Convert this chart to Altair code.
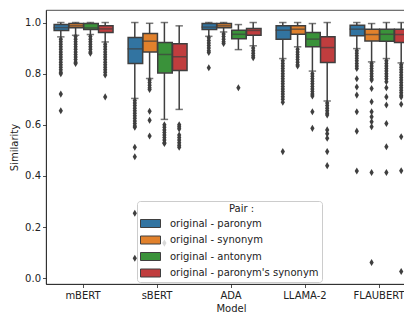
import altair as alt
import pandas as pd

models = ["mBERT", "sBERT", "ADA", "LLAMA-2", "FLAUBERT"]
pairs = ["original - paronym", "original - synonym", "original - antonym", "original - paronym's synonym"]
colors = ["#3274a1", "#e1812c", "#3a923a", "#c03d3e"]
gray = "#3f3f3f"

# per model, per pair (order of pairs)
q1 = [
    [0.969, 0.980, 0.973, 0.961],
    [0.840, 0.885, 0.803, 0.812],
    [0.973, 0.980, 0.937, 0.950],
    [0.935, 0.954, 0.905, 0.844],
    [0.948, 0.928, 0.927, 0.922],
]
median = [
    [0.980, 0.987, 0.979, 0.975],
    [0.897, 0.927, 0.875, 0.866],
    [0.982, 0.987, 0.954, 0.969],
    [0.970, 0.974, 0.935, 0.902],
    [0.974, 0.953, 0.954, 0.953],
]
q3 = [
    [0.992, 0.996, 0.996, 0.987],
    [0.941, 0.957, 0.922, 0.917],
    [0.996, 0.996, 0.970, 0.977],
    [0.987, 0.987, 0.961, 0.944],
    [0.989, 0.974, 0.974, 0.974],
]
whisker_low = [
    [0.944, 0.950, 0.953, 0.924],
    [0.703, 0.781, 0.621, 0.660],
    [0.946, 0.963, 0.894, 0.909],
    [0.859, 0.905, 0.810, 0.693],
    [0.898, 0.846, 0.859, 0.842],
]
whisker_high = [
    [1.000, 1.000, 1.000, 1.000],
    [1.000, 0.997, 1.000, 0.987],
    [1.000, 1.000, 0.992, 1.000],
    [1.000, 1.000, 0.996, 1.000],
    [1.000, 0.996, 1.000, 1.000],
]

outliers = {
    ("mBERT", 0): [0.935, 0.925, 0.915, 0.905, 0.895, 0.885, 0.875, 0.865, 0.855, 0.845, 0.835, 0.825, 0.815, 0.805, 0.800, 0.720, 0.655],
    ("mBERT", 1): [0.945, 0.935, 0.925, 0.915, 0.905, 0.895, 0.885, 0.875, 0.865, 0.855, 0.845, 0.840],
    ("mBERT", 2): [0.945, 0.935, 0.925, 0.915, 0.905, 0.895, 0.885, 0.880],
    ("mBERT", 3): [0.915, 0.905, 0.895, 0.885, 0.875, 0.865, 0.855, 0.845, 0.835, 0.825, 0.815, 0.805, 0.795, 0.709],
    ("sBERT", 0): [0.695, 0.685, 0.675, 0.665, 0.655, 0.645, 0.635, 0.625, 0.615, 0.605, 0.595, 0.590, 0.512, 0.475, 0.254, 0.078],
    ("sBERT", 1): [0.775, 0.765, 0.755, 0.745, 0.738, 0.653, 0.618, 0.556],
    ("sBERT", 2): [0.600, 0.590, 0.580, 0.570, 0.560, 0.550, 0.540, 0.530, 0.527, 0.137],
    ("sBERT", 3): [0.600, 0.592, 0.584, 0.560, 0.550, 0.540, 0.530, 0.520, 0.512],
    ("ADA", 0): [0.940, 0.930, 0.920, 0.910, 0.900, 0.890, 0.883, 0.823],
    ("ADA", 1): [0.955, 0.945, 0.935, 0.925, 0.918],
    ("ADA", 2): [0.745],
    ("ADA", 3): [0.900, 0.890, 0.880, 0.870, 0.862],
    ("LLAMA-2", 0): [0.850, 0.840, 0.830, 0.820, 0.810, 0.800, 0.790, 0.780, 0.770, 0.760, 0.750, 0.740, 0.730, 0.720, 0.710, 0.700, 0.688, 0.495],
    ("LLAMA-2", 1): [0.895, 0.885, 0.875, 0.865, 0.855, 0.845, 0.835, 0.830],
    ("LLAMA-2", 2): [0.800, 0.790, 0.780, 0.770, 0.760, 0.750, 0.740, 0.730, 0.720, 0.713, 0.651, 0.586],
    ("LLAMA-2", 3): [0.685, 0.675, 0.665, 0.655, 0.645, 0.638, 0.580, 0.565, 0.547, 0.495, 0.440],
    ("FLAUBERT", 0): [0.890, 0.880, 0.870, 0.860, 0.850, 0.840, 0.830, 0.820, 0.780, 0.748, 0.716, 0.651, 0.575, 0.419],
    ("FLAUBERT", 1): [0.840, 0.830, 0.820, 0.810, 0.800, 0.790, 0.780, 0.775, 0.742, 0.690, 0.651, 0.631, 0.612, 0.592, 0.413, 0.061],
    ("FLAUBERT", 2): [0.850, 0.840, 0.830, 0.820, 0.810, 0.800, 0.790, 0.780, 0.768, 0.745, 0.709, 0.677, 0.605, 0.514, 0.413],
    ("FLAUBERT", 3): [0.835, 0.825, 0.815, 0.805, 0.795, 0.785, 0.775, 0.765, 0.755, 0.745, 0.735, 0.725, 0.715, 0.709, 0.680, 0.553, 0.420, 0.026],
}

rows = []
for i, m in enumerate(models):
    for j, p in enumerate(pairs):
        rows.append({"Model": m, "Pair": p, "q1": q1[i][j], "median": median[i][j], "q3": q3[i][j],
                     "lo": whisker_low[i][j], "hi": whisker_high[i][j]})
stats = pd.DataFrame(rows)

orows = []
for (m, j), vals in outliers.items():
    for v in vals:
        orows.append({"Model": m, "Pair": pairs[j], "value": v})
outl = pd.DataFrame(orows)

x = alt.X("Model:N", sort=models, scale=alt.Scale(domain=models, paddingInner=0, paddingOuter=0),
          axis=alt.Axis(title="Model", labelAngle=0))
xo = alt.XOffset("Pair:N", sort=pairs, scale=alt.Scale(domain=pairs, paddingInner=0, paddingOuter=0.5))
yscale = alt.Scale(domain=[-0.023, 1.049], nice=False, zero=False)

base = alt.Chart(stats)

whisk_lo = base.mark_rule(color=gray, strokeWidth=1.5).encode(
    x=x, xOffset=xo, y=alt.Y("lo:Q", scale=yscale), y2="q1:Q")
whisk_hi = base.mark_rule(color=gray, strokeWidth=1.5).encode(
    x=x, xOffset=xo, y=alt.Y("q3:Q", scale=yscale), y2="hi:Q")
cap_lo = base.mark_tick(color=gray, size=7.4, thickness=1.5, orient="horizontal").encode(
    x=x, xOffset=xo, y=alt.Y("lo:Q", scale=yscale))
cap_hi = base.mark_tick(color=gray, size=7.4, thickness=1.5, orient="horizontal").encode(
    x=x, xOffset=xo, y=alt.Y("hi:Q", scale=yscale))

boxes = base.mark_bar(stroke=gray, strokeWidth=1.5, width=alt.RelativeBandSize(0.98)).encode(
    x=x, xOffset=xo,
    y=alt.Y("q1:Q", scale=yscale, title="Similarity",
            axis=alt.Axis(values=[0.0, 0.2, 0.4, 0.6, 0.8, 1.0], format=".1f")),
    y2="q3:Q",
    color=alt.Color("Pair:N", sort=pairs, scale=alt.Scale(domain=pairs, range=colors),
                    legend=alt.Legend(title="Pair :", orient="none", legendX=91, legendY=191,
                                      symbolType="M-2,-0.8L2,-0.8L2,0.8L-2,0.8Z", symbolSize=100,
                                      symbolOffset=5,
                                      symbolStrokeColor=gray, symbolStrokeWidth=1,
                                      fillColor="rgba(255,255,255,0.8)", strokeColor="#cccccc",
                                      cornerRadius=3, padding=3, titleAnchor="middle",
                                      titleAlign="left", rowPadding=3.5, labelOffset=14,
                                      titlePadding=4)),
)
med = base.mark_tick(color=gray, size=14.5, thickness=1.5, orient="horizontal").encode(
    x=x, xOffset=xo, y=alt.Y("median:Q", scale=yscale))

pts = alt.Chart(outl).mark_point(shape="M0,-1L0.6,0L0,1L-0.6,0Z", filled=True, size=50,
                                 color=gray, opacity=1).encode(
    x=x, xOffset=xo, y=alt.Y("value:Q", scale=yscale))

chart = alt.layer(whisk_lo, whisk_hi, cap_lo, cap_hi, boxes, med, pts).properties(
    width=370, height=274,
    autosize=alt.AutoSizeParams(type="none"),
    padding={"left": 38, "top": 2, "right": -12, "bottom": 30},
).configure_view(stroke="#222222", strokeWidth=0.8).configure_axis(
    labelFont="DejaVu Sans", titleFont="DejaVu Sans", labelFontSize=10, titleFontSize=10,
    titleFontWeight="normal", labelColor="#222222", titleColor="#222222",
    domainColor="#222222", tickColor="#222222", tickSize=3.5, grid=False,
    labelPadding=2, domainWidth=0.8, tickWidth=0.8,
).configure_axisY(titlePadding=5).configure_axisX(titlePadding=3, labelPadding=3).configure_legend(
    labelFont="DejaVu Sans", titleFont="DejaVu Sans", labelFontSize=10, titleFontSize=10,
    titleFontWeight="normal", labelColor="#222222", titleColor="#222222",
)

chart.save("out.html", embed_options={"renderer": "svg", "actions": False})
